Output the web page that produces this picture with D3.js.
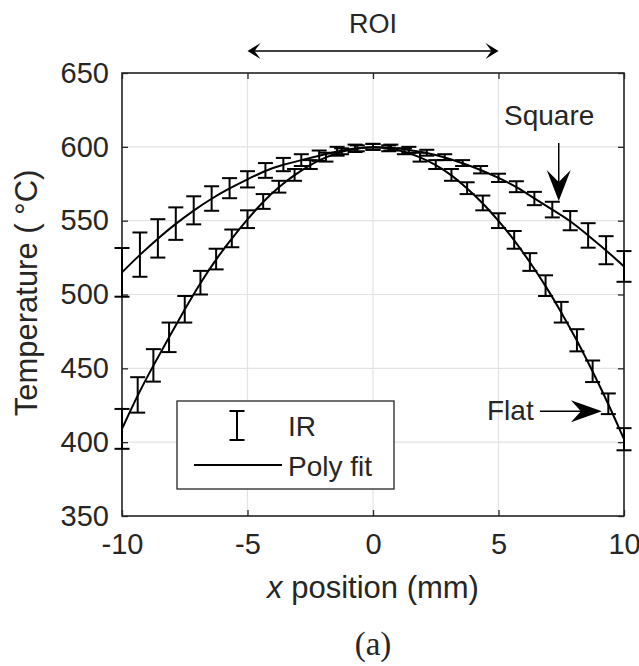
<!DOCTYPE html>
<html>
<head>
<meta charset="utf-8">
<script src="https://cdn.jsdelivr.net/npm/d3@7"></script>
<style>
  html, body { margin: 0; padding: 0; background: #fff; }
  svg { display: block; }
  text { font-family: "Liberation Sans", Arial, sans-serif; fill: #262626; }
</style>
</head>
<body>
<svg id="chart" width="639" height="666"></svg>
<script>
// Temperature profiles across the sample: IR readings with error bars and polynomial fits
const xTicks = [-10, -5, 0, 5, 10];
const yTicks = [350, 400, 450, 500, 550, 600, 650];

// "Square" profile (29 IR samples)
const squareX = [-10, -9.286, -8.571, -7.857, -7.143, -6.429, -5.714, -5, -4.286, -3.571, -2.857, -2.143, -1.429, -0.714,
  0, 0.714, 1.429, 2.143, 2.857, 3.571, 4.286, 5, 5.714, 6.429, 7.143, 7.857, 8.571, 9.286, 10];
const squareT = [515, 527, 538, 548, 557, 565, 572, 578, 584, 588, 591, 594, 597, 599,
  600, 599.5, 598, 596, 593, 589, 584.5, 579, 573, 565, 557.5, 550, 540, 530, 519];
const squareErr = [16.5, 15, 13, 11, 9.5, 8.3, 6.8, 5.5, 5, 4.5, 4, 3.5, 3, 2.5,
  2, 2, 2, 2, 2, 2, 2.5, 2.8, 3.7, 4.5, 5.3, 6.5, 8.3, 9.5, 10.4];

// "Flat" profile (33 IR samples)
const flatX = [-10, -9.375, -8.75, -8.125, -7.5, -6.875, -6.25, -5.625, -5, -4.375, -3.75, -3.125, -2.5, -1.875, -1.25, -0.625,
  0, 0.625, 1.25, 1.875, 2.5, 3.125, 3.75, 4.375, 5, 5.625, 6.25, 6.875, 7.5, 8.125, 8.75, 9.375, 10];
const flatT = [409, 432, 452, 471, 490, 508, 524, 538, 551, 563, 573, 581, 588, 593, 597, 599,
  600, 599, 597, 593, 588, 581, 572, 562, 550, 537, 522, 506, 488, 469, 448, 426, 402];
const flatErr = [13.5, 12, 11, 10, 9, 8, 7, 6, 6, 5, 4, 4, 3, 3, 2, 2,
  2, 2, 2, 3, 3, 4, 4, 5, 5, 6, 6, 7, 7, 7.5, 7.3, 7, 7.5];

const svg = d3.select("#chart");
const W = 639, H = 666;
const m = { left: 122, right: 15, top: 73, bottom: 150 };
const pw = W - m.left - m.right, ph = H - m.top - m.bottom;

const x = d3.scaleLinear().domain([-10, 10]).range([m.left, m.left + pw]);
const y = d3.scaleLinear().domain([350, 650]).range([m.top + ph, m.top]);

const INK = "#262626";
const plainNum = d => String(d);

// grid
const grid = svg.append("g").attr("stroke", "#e3e3e3").attr("stroke-width", 1.2);
grid.selectAll(".gx").data(xTicks).join("line")
  .attr("x1", d => x(d)).attr("x2", d => x(d)).attr("y1", m.top).attr("y2", m.top + ph);
grid.selectAll(".gy").data(yTicks).join("line")
  .attr("y1", d => y(d)).attr("y2", d => y(d)).attr("x1", m.left).attr("x2", m.left + pw);

// axes with inward ticks on all four sides
function styleAxis(g, showLabels) {
  g.select(".domain").remove();
  g.selectAll(".tick line").attr("stroke", INK).attr("stroke-width", 1.3);
  g.selectAll(".tick text").attr("fill", INK).style("font-size", "29px")
    .style("font-family", "'Liberation Sans', Arial, sans-serif");
  if (!showLabels) g.selectAll(".tick text").remove();
}
svg.append("g").attr("transform", `translate(0,${m.top + ph})`)
  .call(d3.axisBottom(x).tickValues(xTicks).tickSize(-6).tickPadding(17).tickFormat(plainNum))
  .call(g => styleAxis(g, true));
svg.append("g").attr("transform", `translate(0,${m.top})`)
  .call(d3.axisTop(x).tickValues(xTicks).tickSize(-6))
  .call(g => styleAxis(g, false));
svg.append("g").attr("transform", `translate(${m.left},0)`)
  .call(d3.axisLeft(y).tickValues(yTicks).tickSize(-6).tickPadding(13).tickFormat(plainNum))
  .call(g => styleAxis(g, true));
svg.append("g").attr("transform", `translate(${m.left + pw},0)`)
  .call(d3.axisRight(y).tickValues(yTicks).tickSize(-6))
  .call(g => styleAxis(g, false));

svg.append("rect").attr("x", m.left).attr("y", m.top).attr("width", pw).attr("height", ph)
  .attr("fill", "none").attr("stroke", INK).attr("stroke-width", 1.6);

// data series
const series = [
  { xs: squareX, ts: squareT, es: squareErr },
  { xs: flatX, ts: flatT, es: flatErr }
];
const line = d3.line().x(d => x(d.x)).y(d => y(d.t)).curve(d3.curveBasis);
const capHalf = 7.5;

series.forEach(s => {
  const pts = s.xs.map((v, i) => ({ x: v, t: s.ts[i], e: s.es[i] }));
  const eb = svg.append("g").attr("stroke", "#000").attr("stroke-width", 2).attr("fill", "none");
  const bars = eb.selectAll("g").data(pts).join("g");
  bars.append("line").attr("x1", d => x(d.x)).attr("x2", d => x(d.x))
    .attr("y1", d => y(d.t + d.e)).attr("y2", d => y(d.t - d.e));
  bars.append("line").attr("x1", d => x(d.x) - capHalf).attr("x2", d => x(d.x) + capHalf)
    .attr("y1", d => y(d.t + d.e)).attr("y2", d => y(d.t + d.e));
  bars.append("line").attr("x1", d => x(d.x) - capHalf).attr("x2", d => x(d.x) + capHalf)
    .attr("y1", d => y(d.t - d.e)).attr("y2", d => y(d.t - d.e));
  svg.append("path").datum(pts).attr("d", line)
    .attr("fill", "none").attr("stroke", "#000").attr("stroke-width", 2);
});

// axis labels
svg.append("text").attr("x", x(0)).attr("y", 598).attr("text-anchor", "middle")
  .style("font-size", "31px")
  .call(t => {
    t.append("tspan").style("font-style", "italic").text("x");
    t.append("tspan").text(" position (mm)");
  });
svg.append("text").attr("transform", "translate(37,293) rotate(-90)").attr("text-anchor", "middle")
  .style("font-size", "31px").text("Temperature ( °C)");

// caption
svg.append("text").attr("x", x(0)).attr("y", 655).attr("text-anchor", "middle")
  .style("font-family", "'Liberation Serif', 'Times New Roman', serif").style("font-size", "33px")
  .attr("fill", "#000").text("(a)");

// region of interest arrow
const roiY = 51;
svg.append("line").attr("x1", x(-5) + 4).attr("x2", x(5) - 4).attr("y1", roiY).attr("y2", roiY)
  .attr("stroke", "#000").attr("stroke-width", 1.5);
function head(px, py, dx, dy, len, half, notch) {
  // arrowhead with tip at (px,py) pointing along (dx,dy)
  const nx = -dy, ny = dx;
  const bx = px - dx * len, by = py - dy * len;
  return `M${px},${py} L${bx + nx * half},${by + ny * half} L${px - dx * notch},${py - dy * notch} L${bx - nx * half},${by - ny * half} Z`;
}
svg.append("path").attr("d", head(x(-5), roiY, -1, 0, 13, 8, 7)).attr("fill", "#000");
svg.append("path").attr("d", head(x(5), roiY, 1, 0, 13, 8, 7)).attr("fill", "#000");
svg.append("text").attr("x", x(0)).attr("y", 33).attr("text-anchor", "middle")
  .style("font-size", "27px").attr("fill", "#1a1a1a").text("ROI");

// series annotations
const sqX = x(7.4);
svg.append("line").attr("x1", sqX).attr("x2", sqX).attr("y1", y(602.6)).attr("y2", y(566))
  .attr("stroke", "#000").attr("stroke-width", 1.5);
svg.append("path").attr("d", head(sqX, y(563.3), 0, 1, 31, 12, 19)).attr("fill", "#000");
svg.append("text").attr("x", 504).attr("y", 125).style("font-size", "28px").attr("fill", "#1a1a1a").text("Square");

const flY = y(421);
svg.append("line").attr("x1", x(6.65)).attr("x2", x(8.9)).attr("y1", flY).attr("y2", flY)
  .attr("stroke", "#000").attr("stroke-width", 1.5);
svg.append("path").attr("d", head(x(9.12), flY, 1, 0, 31, 11, 21)).attr("fill", "#000");
svg.append("text").attr("x", 487).attr("y", 420).style("font-size", "28px").attr("fill", "#1a1a1a").text("Flat");

// legend
const lg = svg.append("g");
lg.append("rect").attr("x", 177).attr("y", 401).attr("width", 217).attr("height", 88)
  .attr("fill", "#fff").attr("stroke", INK).attr("stroke-width", 1.3);
const ebx = 237;
lg.append("line").attr("x1", ebx).attr("x2", ebx).attr("y1", 411).attr("y2", 440).attr("stroke", "#000").attr("stroke-width", 2);
lg.append("line").attr("x1", ebx - capHalf).attr("x2", ebx + capHalf).attr("y1", 411).attr("y2", 411).attr("stroke", "#000").attr("stroke-width", 2);
lg.append("line").attr("x1", ebx - capHalf).attr("x2", ebx + capHalf).attr("y1", 440).attr("y2", 440).attr("stroke", "#000").attr("stroke-width", 2);
lg.append("text").attr("x", 288).attr("y", 436).style("font-size", "28px").attr("fill", "#1a1a1a").text("IR");
lg.append("line").attr("x1", 194).attr("x2", 282).attr("y1", 465).attr("y2", 465).attr("stroke", "#000").attr("stroke-width", 2);
lg.append("text").attr("x", 288).attr("y", 476).style("font-size", "28px").attr("fill", "#1a1a1a").text("Poly fit");
</script>
</body>
</html>
